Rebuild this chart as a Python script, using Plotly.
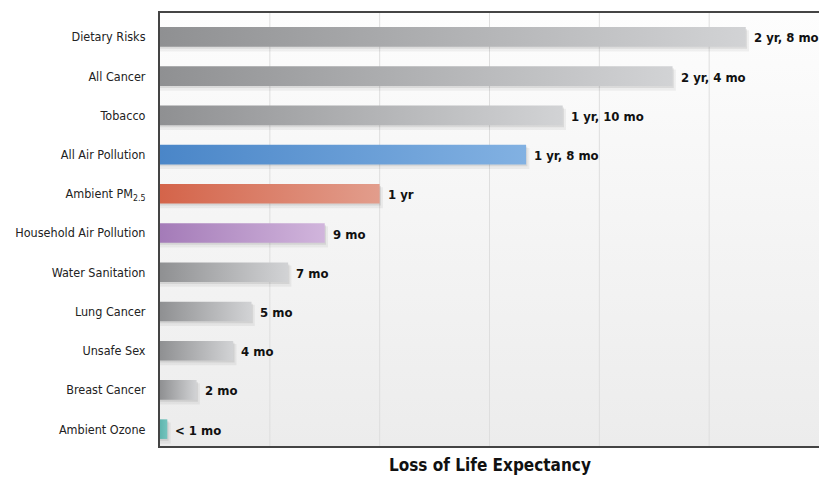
import plotly.graph_objects as go

# Risk factors, top to bottom
categories = [
    "Dietary Risks", "All Cancer", "Tobacco", "All Air Pollution",
    "Ambient PM<sub>2.5</sub>", "Household Air Pollution", "Water Sanitation",
    "Lung Cancer", "Unsafe Sex", "Breast Cancer", "Ambient Ozone",
]
# Loss of life expectancy in months
months = [32, 28, 22, 20, 12, 9, 7, 5, 4, 2, 0.4]
value_labels = [
    "2 yr, 8 mo", "2 yr, 4 mo", "1 yr, 10 mo", "1 yr, 8 mo", "1 yr",
    "9 mo", "7 mo", "5 mo", "4 mo", "2 mo", "< 1 mo",
]
# (left, right) gradient colours of each bar
GRAY = ("#8f9092", "#d2d3d5")
bar_colors = [
    GRAY, GRAY, GRAY,
    ("#4a86c8", "#82b1e2"),
    ("#d4644a", "#e29d8c"),
    ("#a47bb8", "#d1b5dc"),
    GRAY, GRAY, GRAY, GRAY,
    ("#5fb5ae", "#74c4be"),
]

X_MAX = 36
GRID_STEP = 6
Y_TOP, Y_BOTTOM = -0.61, 10.43
HALF = 0.25

NARROW = "Liberation Sans Narrow, Arial Narrow, DejaVu Sans Condensed, sans-serif"

fig = go.Figure()

# plot-area background: light vertical gradient (white at top, grey at bottom)
fig.add_trace(go.Scatter(
    x=[0, X_MAX, X_MAX, 0, 0], y=[Y_TOP, Y_TOP, Y_BOTTOM, Y_BOTTOM, Y_TOP],
    mode="lines", line=dict(width=0), fill="toself",
    fillgradient=dict(type="vertical", colorscale=[[0, "#ececec"], [1, "#fdfdfd"]]),
    hoverinfo="skip", showlegend=False,
))

# vertical gridlines
for gx in range(GRID_STEP, X_MAX, GRID_STEP):
    fig.add_trace(go.Scatter(
        x=[gx, gx], y=[Y_TOP, Y_BOTTOM], mode="lines",
        line=dict(color="#dedede", width=1),
        hoverinfo="skip", showlegend=False,
    ))

for i, (v, (c0, c1)) in enumerate(zip(months, bar_colors)):
    # soft drop shadow
    for dx, dy, grow, a in [(0.14, 0.08, 0.04, 0.05), (0.07, 0.05, 0.0, 0.08)]:
        fig.add_trace(go.Scatter(
            x=[0, v + dx + grow, v + dx + grow, 0, 0],
            y=[i - HALF + dy, i - HALF + dy, i + HALF + dy + grow, i + HALF + dy + grow, i - HALF + dy],
            mode="lines", line=dict(width=0), fill="toself",
            fillcolor=f"rgba(0,0,0,{a})", hoverinfo="skip", showlegend=False,
        ))
    # the bar itself, shaded left to right
    fig.add_trace(go.Scatter(
        x=[0, v, v, 0, 0],
        y=[i - HALF, i - HALF, i + HALF, i + HALF, i - HALF],
        mode="lines", line=dict(width=0), fill="toself",
        fillgradient=dict(type="horizontal", colorscale=[[0, c0], [1, c1]]),
        hoverinfo="skip", showlegend=False,
    ))
    fig.add_annotation(
        x=v, y=i, text=f"<b>{value_labels[i]}</b>", showarrow=False,
        xanchor="left", yanchor="middle", xshift=6, yshift=-1,
        font=dict(family=NARROW, size=13, color="#111111"),
    )

fig.add_annotation(
    x=0.5, y=0, xref="paper", yref="paper", yanchor="top", yshift=-7,
    text="<b>Loss of Life Expectancy</b>", showarrow=False,
    font=dict(family=NARROW, size=17, color="#111111"),
)

fig.update_xaxes(
    range=[0, X_MAX], showgrid=False, zeroline=False, showticklabels=False,
    showline=True, linecolor="#444444", linewidth=2, mirror=True, ticks="",
)
fig.update_yaxes(
    range=[Y_BOTTOM, Y_TOP], tickmode="array", tickvals=list(range(len(categories))),
    ticktext=categories, showgrid=False, zeroline=False, ticks="",
    showline=True, linecolor="#444444", linewidth=2, ticklabelstandoff=10,
    tickfont=dict(family=NARROW, size=12.5, color="#222222"),
)

fig.update_layout(
    width=819, height=478,
    margin=dict(l=160, r=0, t=13, b=32),
    paper_bgcolor="white", plot_bgcolor="white",
    showlegend=False,
)

fig.write_html("out.html")
